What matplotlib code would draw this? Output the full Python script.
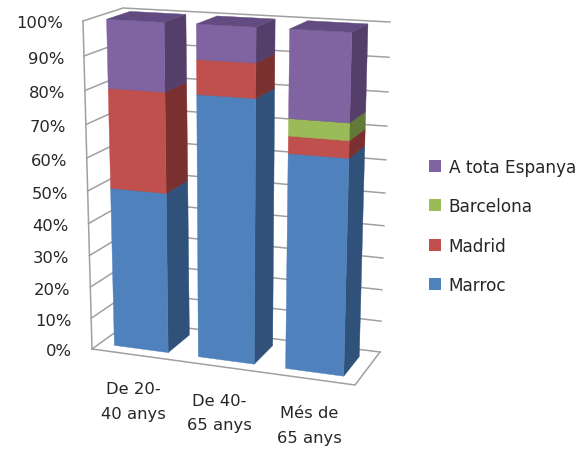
import matplotlib
matplotlib.use("Agg")
import matplotlib.pyplot as plt
from matplotlib.patches import Polygon, Patch

categories = ["De 20-\n40 anys", "De 40-\n65 anys", "Més de\n65 anys"]
series_names = ["Marroc", "Madrid", "Barcelona", "A tota Espanya"]
marroc = [50, 80, 65]
madrid = [30, 10, 5]
barcelona = [0, 0, 5]
espanya = [20, 10, 25]
series_values = [marroc, madrid, barcelona, espanya]
ticks = list(range(0, 101, 10))

front = ["#4F81BD", "#C0504D", "#9BBB59", "#8064A2"]
side = ["#30527A", "#7A302E", "#627A37", "#543F6B"]
top = ["#3E6696", "#96403D", "#7A9646", "#624B80"]
GRID = "#A0A0A0"
TXT = "#262626"

# corners of the 3-D box as seen on the page
FLB, FRB, BLB, BRB = (92, 350), (355, 386), (131, 322), (380, 353)
FLT, FRT, BLT, BRT = (83, 22), (364, 37), (123, 9), (390, 23)


def warp(t, r):
    return t / (t + (1 - t) * r)


def proj(u, v, z):
    """u: along categories 0-1, v: depth 0-1, z: value 0-100."""
    a, c = warp(u, 1.06), warp(z / 100.0, 1.076)
    out = []
    for i in range(2):
        b0 = (FLB[i] * (1 - a) + FRB[i] * a) * (1 - v) + (BLB[i] * (1 - a) + BRB[i] * a) * v
        t0 = (FLT[i] * (1 - a) + FRT[i] * a) * (1 - v) + (BLT[i] * (1 - a) + BRT[i] * a) * v
        out.append(b0 * (1 - c) + t0 * c)
    return tuple(out)


fig = plt.figure(figsize=(5.86, 4.52), dpi=100)
ax = fig.add_axes([0, 0, 1, 1])
ax.set_xlim(0, 586)
ax.set_ylim(452, 0)
ax.axis("off")

# walls and floor
for t in ticks:
    pts = [proj(0, 0, t), proj(0, 1, t), proj(1, 1, t)]
    ax.plot(*zip(*pts), color=GRID, lw=1.1, zorder=1)
    x, y = proj(0, 0, t)
    ax.text(x - 20, y + 2, f"{t}%", ha="right", va="center", fontsize=11.8, color=TXT)
ax.plot(*zip(proj(0, 0, 0), proj(0, 0, 100)), color=GRID, lw=1.1, zorder=1)
ax.plot(*zip(proj(0, 0, 0), proj(1, 0, 0), proj(1, 1, 0)), color=GRID, lw=1.1, zorder=1)

# bars
n = len(categories)
bw = 0.645 / n
v0, v1 = 0.2, 0.8
for k, cat in enumerate(categories):
    uc = (k + 0.5) / n
    ul, ur = uc - bw / 2, uc + bw / 2
    base = 0
    for s, vals in enumerate(series_values):
        val = vals[k]
        if val == 0:
            continue
        h = base + val
        ax.add_patch(Polygon([proj(ur, v0, base), proj(ur, v1, base), proj(ur, v1, h), proj(ur, v0, h)],
                             fc=side[s], ec=side[s], lw=0.3, zorder=3 + k))
        ax.add_patch(Polygon([proj(ul, v0, base), proj(ur, v0, base), proj(ur, v0, h), proj(ul, v0, h)],
                             fc=front[s], ec=front[s], lw=0.3, zorder=3 + k))
        ax.add_patch(Polygon([proj(ul, v0, h), proj(ur, v0, h), proj(ur, v1, h), proj(ul, v1, h)],
                             fc=top[s], ec=top[s], lw=0.3, zorder=3 + k))
        base = h
    x, y = proj(uc, 0, 0)
    ax.text(x, y + 46, cat, ha="center", va="center", fontsize=11.8, color=TXT, linespacing=1.8)

handles = [Patch(fc=front[i], ec="none", label=series_names[i]) for i in range(3, -1, -1)]
ax.legend(handles=handles, loc="center left", bbox_to_anchor=(429, 227), bbox_transform=ax.transData,
          frameon=False, fontsize=12.2, borderpad=0, borderaxespad=0, labelspacing=1.26,
          handlelength=0.72, handleheight=0.72, handletextpad=0.45, labelcolor=TXT)

fig.savefig("out.png", dpi=100)
